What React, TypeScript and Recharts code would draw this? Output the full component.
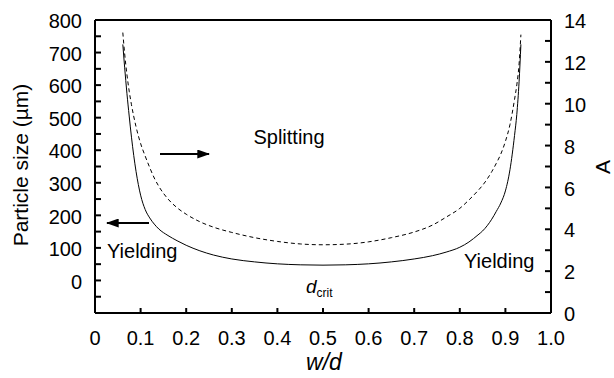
import React from "react";
import { Line, LineChart, ReferenceLine, XAxis, YAxis } from "recharts";

// w/d sample positions
const wd = [
  0.061, 0.065, 0.07, 0.075, 0.08, 0.09, 0.1, 0.11, 0.12, 0.13, 0.14, 0.16, 0.18, 0.2, 0.23, 0.26, 0.3,
  0.35, 0.4, 0.45, 0.5, 0.55, 0.6, 0.65, 0.7, 0.74, 0.77, 0.8, 0.82, 0.84, 0.85, 0.86, 0.87, 0.88, 0.89,
  0.9, 0.91, 0.92, 0.925, 0.93, 0.934,
];

// solid curve, particle size d_crit (µm), left axis
const particleSize = [
  725, 655, 575, 505, 440, 335, 262, 218, 192, 173, 158, 138, 122, 108, 91, 78, 66, 57, 51, 48, 47, 48,
  51, 57, 66, 76, 87, 102, 118, 140, 152, 168, 188, 212, 238, 275, 340, 445, 510, 610, 725,
];

// dashed curve, A, right axis
const aValues = [
  13.4, 12.4, 11.4, 10.6, 9.95, 8.9, 8.1, 7.5, 6.95, 6.45, 6.05, 5.45, 5.03, 4.72, 4.36, 4.1, 3.85, 3.6,
  3.42, 3.3, 3.26, 3.29, 3.4, 3.6, 3.87, 4.2, 4.58, 5.0, 5.4, 5.85, 6.1, 6.4, 6.75, 7.15, 7.6, 8.2, 9.0,
  10.2, 10.9, 11.9, 13.3,
];

const xTicks = [0, 0.1, 0.2, 0.3, 0.4, 0.5, 0.6, 0.7, 0.8, 0.9, 1.0];
const leftTicks = [-50, 0, 50, 100, 150, 200, 250, 300, 350, 400, 450, 500, 550, 600, 650, 700, 750, 800];
const rightTicks = [0, 1, 2, 3, 4, 5, 6, 7, 8, 9, 10, 11, 12, 13, 14];

const data = wd.map((x, i) => ({ wd: x, size: particleSize[i], a: aValues[i] }));

const FONT = "'Liberation Sans', Arial, sans-serif";

const LeftTick = (props: any) => {
  const { x, y, payload } = props;
  const v = payload.value as number;
  return (
    <g>
      <line x1={x} x2={x + 6} y1={y} y2={y} stroke="#000" strokeWidth={2} />
      {v >= 0 && v % 100 === 0 && (
        <text x={x - 13} y={y + 1} dy="0.36em" textAnchor="end" fontSize={20} fontFamily={FONT} fill="#000">
          {v}
        </text>
      )}
    </g>
  );
};

const RightTick = (props: any) => {
  const { x, y, payload } = props;
  const v = payload.value as number;
  return (
    <g>
      <line x1={x} x2={x - 6} y1={y} y2={y} stroke="#000" strokeWidth={2} />
      {v % 2 === 0 && (
        <text x={x + 13} y={y + 1} dy="0.36em" textAnchor="start" fontSize={20} fontFamily={FONT} fill="#000">
          {v}
        </text>
      )}
    </g>
  );
};

const BottomTick = (props: any) => {
  const { x, y, payload } = props;
  const v = payload.value as number;
  return (
    <g>
      <line x1={x} x2={x} y1={y} y2={y - 5} stroke="#000" strokeWidth={2} />
      <text x={x} y={y + 32} textAnchor="middle" fontSize={20} fontFamily={FONT} fill="#000">
        {v === 0 ? "0" : v.toFixed(1)}
      </text>
    </g>
  );
};

export default function App() {
  return (
    <div style={{ position: "absolute", left: 0, top: 0, width: 614, height: 378, background: "#fff" }}>
      <LineChart
        width={614}
        height={378}
        data={data}
        margin={{ top: 20, right: 23, bottom: 25, left: 35 }}
      >
        <XAxis
          dataKey="wd"
          type="number"
          domain={[0, 1]}
          ticks={xTicks}
          interval={0}
          height={40}
          tickSize={0}
          tickMargin={0}
          tickLine={false}
          axisLine={{ stroke: "#000", strokeWidth: 2 }}
          tick={<BottomTick />}
        />
        <YAxis
          yAxisId="left"
          type="number"
          domain={[-100, 800]}
          ticks={leftTicks}
          interval={0}
          width={60}
          tickSize={0}
          tickMargin={0}
          tickLine={false}
          axisLine={{ stroke: "#000", strokeWidth: 2 }}
          tick={<LeftTick />}
          allowDataOverflow
        />
        <YAxis
          yAxisId="right"
          orientation="right"
          type="number"
          domain={[0, 14]}
          ticks={rightTicks}
          interval={0}
          width={40}
          tickSize={0}
          tickMargin={0}
          tickLine={false}
          axisLine={{ stroke: "#000", strokeWidth: 2 }}
          tick={<RightTick />}
          allowDataOverflow
        />
        <ReferenceLine yAxisId="left" y={800} stroke="#000" strokeWidth={2} />
        <Line
          yAxisId="left"
          dataKey="size"
          type="monotone"
          stroke="#000"
          strokeWidth={1}
          dot={false}
          isAnimationActive={false}
        />
        <Line
          yAxisId="right"
          dataKey="a"
          type="monotone"
          stroke="#000"
          strokeWidth={1}
          strokeDasharray="4 3"
          dot={false}
          isAnimationActive={false}
        />
      </LineChart>
      <svg
        width={614}
        height={378}
        style={{ position: "absolute", left: 0, top: 0, pointerEvents: "none" }}
        fontFamily={FONT}
      >
        <defs>
          <marker
            id="head"
            viewBox="0 0 10 10"
            refX="9"
            refY="5"
            markerUnits="userSpaceOnUse"
            markerWidth="13"
            markerHeight="9"
            orient="auto"
            preserveAspectRatio="none"
          >
            <path d="M0,0 L10,5 L0,10 z" fill="#000" />
          </marker>
        </defs>
        <text x={28} y={165} transform="rotate(-90 28 165)" textAnchor="middle" fontSize={21}>
          Particle size (µm)
        </text>
        <text x={610} y={167} transform="rotate(-90 610 167)" textAnchor="middle" fontSize={21}>
          A
        </text>
        <text x={324} y={370} textAnchor="middle" fontSize={23} fontStyle="italic">
          w/d
        </text>
        <text x={289} y={144} textAnchor="middle" fontSize={20}>
          Splitting
        </text>
        <text x={107} y={258} fontSize={20}>
          Yielding
        </text>
        <text x={464} y={268} fontSize={20}>
          Yielding
        </text>
        <text x={306} y={293} fontSize={19} fontStyle="italic">
          d<tspan fontSize={12} fontStyle="normal" dy={4}>crit</tspan>
        </text>
        <line x1={160} y1={154} x2={209} y2={154} stroke="#000" strokeWidth={2} markerEnd="url(#head)" />
        <line x1={149} y1={223} x2={107} y2={223} stroke="#000" strokeWidth={2} markerEnd="url(#head)" />
      </svg>
    </div>
  );
}
